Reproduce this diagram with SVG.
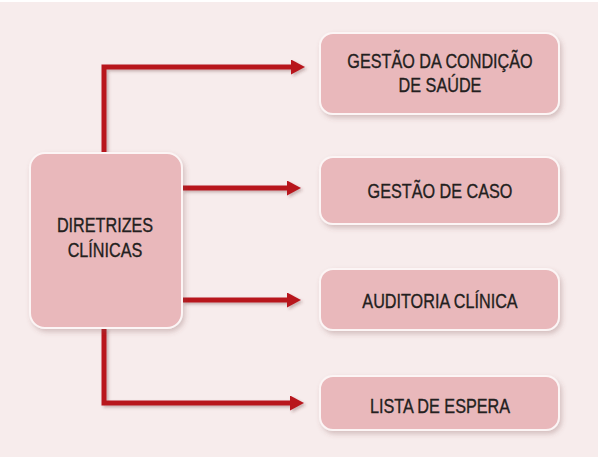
<svg xmlns="http://www.w3.org/2000/svg" width="598" height="457" viewBox="0 0 598 457">
  <defs>
    <filter id="sh" x="-10%" y="-10%" width="130%" height="140%">
      <feDropShadow dx="2" dy="3" stdDeviation="2.5" flood-color="#7a4a4c" flood-opacity="0.28"/>
    </filter>
    <filter id="ash" x="-10%" y="-20%" width="130%" height="160%">
      <feDropShadow dx="2" dy="2" stdDeviation="1.5" flood-color="#5a2a2c" flood-opacity="0.3"/>
    </filter>
    <marker id="ah" markerUnits="userSpaceOnUse" markerWidth="15" markerHeight="15" refX="0" refY="7.5" orient="auto" viewBox="0 0 15 15">
      <path d="M0,0 L14,7.5 L0,15 Z" fill="#b8141f"/>
    </marker>
    <style>
      .box { fill: #e9b8bb; stroke: #fcf5f5; stroke-width: 2; filter: url(#sh); }
      .lbl { font-family: "Liberation Sans", Arial, sans-serif; font-size: 20px; fill: #231f20; stroke: #231f20; stroke-width: 0.35; text-anchor: middle; }
      .con { fill: none; stroke: #b8141f; stroke-width: 5; stroke-linejoin: miter; marker-end: url(#ah); }
    </style>
  </defs>
  <rect x="0" y="2" width="598" height="455" fill="#f7ecec"/>
  <g id="connectors" filter="url(#ash)">
    <path class="con" d="M104,153 V67 H291"/>
    <path class="con" d="M182,188 H287"/>
    <path class="con" d="M182,300 H287"/>
    <path class="con" d="M104,328 V403 H290"/>
  </g>
  <g id="diretrizes">
    <rect class="box" x="30" y="153" width="152" height="175" rx="15" ry="15"/>
    <text class="lbl" transform="translate(105 232) scale(0.81 1)">DIRETRIZES</text>
    <text class="lbl" transform="translate(105 257) scale(0.81 1)">CLÍNICAS</text>
  </g>
  <g id="gestao-condicao">
    <rect class="box" x="320" y="33" width="239" height="81" rx="13" ry="13"/>
    <text class="lbl" transform="translate(440 68) scale(0.81 1)">GESTÃO DA CONDIÇÃO</text>
    <text class="lbl" transform="translate(440 92) scale(0.81 1)">DE SAÚDE</text>
  </g>
  <g id="gestao-caso">
    <rect class="box" x="320" y="157" width="239" height="67" rx="13" ry="13"/>
    <text class="lbl" transform="translate(440 198) scale(0.81 1)">GESTÃO DE CASO</text>
  </g>
  <g id="auditoria">
    <rect class="box" x="320" y="269" width="239" height="61" rx="13" ry="13"/>
    <text class="lbl" transform="translate(440 308) scale(0.81 1)">AUDITORIA CLÍNICA</text>
  </g>
  <g id="lista">
    <rect class="box" x="320" y="376" width="239" height="54" rx="13" ry="13"/>
    <text class="lbl" transform="translate(440 413) scale(0.81 1)">LISTA DE ESPERA</text>
  </g>
</svg>
